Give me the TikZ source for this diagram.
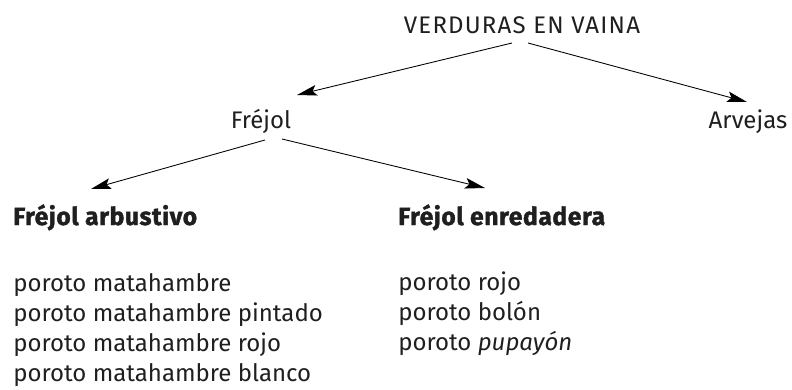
\documentclass[tikz,border=0pt]{standalone}
\usepackage{fontspec}
\setmainfont{Fira Sans}
\usetikzlibrary{arrows.meta,calc}
\begin{document}
\begin{tikzpicture}[x=0.75pt,y=-0.75pt,
    >={Stealth[length=15pt,width=8pt,inset=3pt]},
    every node/.style={inner sep=0pt,text=black!88,font=\fontsize{18}{21}\selectfont},
    head/.style={font=\fontsize{18.5}{21}\selectfont\bfseries\addfontfeatures{FakeBold=1.5,LetterSpace=2.3}}]
    \useasboundingbox (0,0) rectangle (792,389);

    \node[anchor=base,font=\fontsize{18}{21}\selectfont\addfontfeatures{LetterSpace=5}]
      (verd) at (522,33) {VERDURAS EN VAINA};
    \node[anchor=base] (frejol) at (261,128) {Fréjol};
    \node[anchor=base] (arv) at (748,128) {Arvejas};

    \node[head,anchor=base west] (arb) at (13,225) {Fréjol arbustivo};
    \node[head,anchor=base west] (enr) at (398,225) {Fréjol enredadera};

    \foreach \t [count=\i] in {poroto matahambre, poroto matahambre pintado,
        poroto matahambre rojo, poroto matahambre blanco}
      \node[anchor=base west] (arb\i) at (13,261+30*\i) {\t};
    \foreach \t [count=\i] in {poroto rojo, poroto bolón, poroto \emph{pupayón}}
      \node[anchor=base west] (enr\i) at (398,260+30*\i) {\t};

    \draw[->,line width=0.65pt] ($(verd.base)+(-10,10)$) -- ($(frejol.base)+(36,-33)$);
    \draw[->,line width=0.65pt] ($(verd.base)+(6,10)$) -- ($(arv.base)+(-1,-26)$);
    \draw[->,line width=0.65pt] ($(frejol.base)+(4,12)$) -- ($(arb.base west)+(78,-36)$);
    \draw[->,line width=0.65pt] ($(frejol.base)+(21,11)$) -- ($(enr.base west)+(87,-37)$);
  \end{tikzpicture}
\end{document}
